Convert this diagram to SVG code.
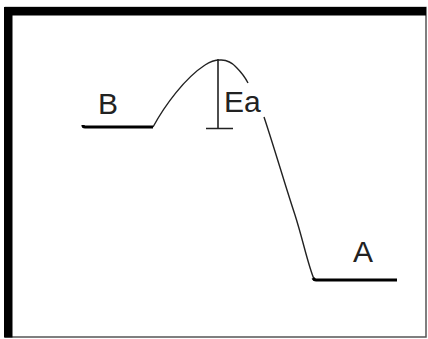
<svg xmlns="http://www.w3.org/2000/svg" width="428" height="339" viewBox="0 0 428 339">
<style>
.lbl{font-family:"Liberation Sans",Arial,sans-serif;font-size:30px;fill:#222}
.lvl{stroke:#000;stroke-width:3.2;fill:none;stroke-linecap:butt}
.curve{stroke:#222;stroke-width:1.4;fill:none}
</style>
<rect width="428" height="339" fill="#fff"/>
<g id="frame">
<rect x="5.5" y="7.5" width="420.5" height="329.5" fill="none" stroke="#555" stroke-width="1.5"/>
<rect x="4" y="7" width="422" height="8.5" fill="#000"/>
<rect x="4" y="7" width="8.5" height="330.5" fill="#000"/>
</g>
<g id="connectors">
<path class="curve" d="M153,127 C165,105 185,78 205,65 C215,58 228,58 236,67 C242,73 246,79 248,83"/>
<path class="curve" d="M264,117 C275,150 285,185 295,215 C303,240 308,265 314,279"/>
<path d="M218,59 V128 M206,128.5 H233" stroke="#222" stroke-width="1.6" fill="none"/>
</g>
<g id="B">
<path class="lvl" d="M83,125 Q83,127 85,127 H153"/>
<text class="lbl" x="98" y="114">B</text>
</g>
<g id="Ea">
<text class="lbl" x="224" y="112">Ea</text>
</g>
<g id="A">
<path class="lvl" d="M313,278 Q314,280 316,280 H397"/>
<text class="lbl" x="353" y="262">A</text>
</g>
</svg>
